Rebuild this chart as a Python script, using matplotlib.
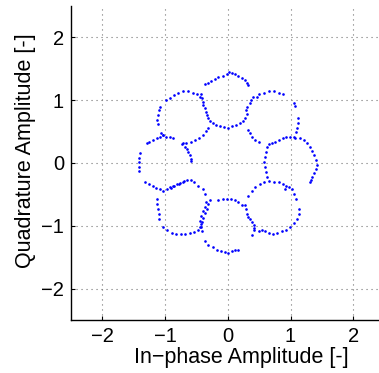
import matplotlib
matplotlib.use("Agg")
import matplotlib.pyplot as plt

# In-phase (x) and quadrature (y) samples, grouped by ring
top_x = [-0.36, -0.32, -0.27, -0.21, -0.15, -0.08, -0.02, 0.02, 0.06, 0.12, 0.17, 0.22, 0.27, 0.30, 0.33,
         -0.42, -0.41, -0.40, -0.39, -0.37, -0.35, -0.33, -0.31, -0.28, -0.24, -0.19, -0.12, -0.06, 0.00,
         0.06, 0.13, 0.19, 0.24, 0.28, 0.30, 0.29, 0.31, 0.35, 0.37, 0.40]
top_y = [1.25, 1.27, 1.30, 1.33, 1.36, 1.39, 1.42, 1.45, 1.43, 1.41, 1.38, 1.35, 1.32, 1.27, 1.24,
         1.09, 1.03, 0.97, 0.92, 0.87, 0.81, 0.76, 0.71, 0.67, 0.64, 0.60, 0.58, 0.57, 0.56,
         0.58, 0.60, 0.63, 0.67, 0.72, 0.78, 0.84, 0.89, 0.95, 1.00, 1.05]

ur_x = [0.46, 0.50, 0.57, 0.65, 0.73, 0.81, 0.88, 1.05, 1.07, 1.12, 1.12, 1.10, 1.08, 1.06,
        0.33, 0.36, 0.39, 0.44, 0.49]
ur_y = [1.05, 1.09, 1.12, 1.15, 1.15, 1.12, 1.10, 0.95, 0.90, 0.71, 0.64, 0.56, 0.49, 0.42,
        0.52, 0.47, 0.42, 0.37, 0.33]

r_x = [0.65, 0.70, 0.75, 0.82, 0.88, 0.93, 0.99, 1.07, 1.15, 1.22, 1.27, 1.31, 1.35, 1.38, 1.40,
       1.43, 1.41, 1.38, 1.35, 1.32, 1.31,
       0.62, 0.61, 0.59, 0.58, 0.59, 0.61, 0.62,
       0.65, 0.73, 0.81, 0.88, 0.93, 0.97, 0.91]
r_y = [0.30, 0.32, 0.34, 0.36, 0.39, 0.41, 0.42, 0.40, 0.40, 0.36, 0.31, 0.25, 0.19, 0.12, 0.04,
       -0.04, -0.09, -0.16, -0.22, -0.28, -0.30,
       0.25, 0.18, 0.10, 0.02, -0.06, -0.14, -0.22,
       -0.29, -0.30, -0.31, -0.34, -0.36, -0.39, -0.41]

lr_x = [0.33, 0.38, 0.44, 0.52, 0.58, 1.02, 1.06, 1.08, 1.14, 1.13, 1.10, 1.06, 0.99, 0.93, 0.86,
        0.79, 0.72, 0.65, 0.59, 0.54, 0.49, 0.42, 0.39,
        0.28, 0.29, 0.31, 0.33, 0.36, 0.38, 0.41, 0.42]
lr_y = [-0.52, -0.44, -0.38, -0.33, -0.31, -0.42, -0.50, -0.58, -0.74, -0.82, -0.89, -0.96, -1.02, -1.06, -1.08,
        -1.11, -1.13, -1.12, -1.09, -1.07, -1.08, -1.07, -1.15,
        -0.67, -0.74, -0.81, -0.86, -0.90, -0.94, -0.99, -1.04]

bot_x = [-0.15, -0.08, -0.02, 0.05, 0.11, 0.17, 0.22,
         -0.29, -0.31, -0.33, -0.36, -0.39, -0.41, -0.42, -0.41,
         -0.36, -0.31, -0.24, -0.18, -0.11, -0.04, 0.01, 0.06, 0.12, 0.17]
bot_y = [-0.59, -0.58, -0.57, -0.58, -0.59, -0.63, -0.67,
         -0.59, -0.66, -0.73, -0.80, -0.87, -0.94, -1.02, -1.08,
         -1.24, -1.30, -1.34, -1.38, -1.40, -1.42, -1.43, -1.40, -1.39, -1.38]

ll_x = [-0.97, -0.92, -0.87, -0.81, -0.76, -0.72, -0.65, -0.59, -0.54, -0.47, -0.40, -0.36,
        -1.13, -1.13, -1.12, -1.10, -1.09,
        -1.03, -0.97, -0.89, -0.82, -0.75, -0.68, -0.61, -0.54, -0.47, -0.44,
        -0.40, -0.37, -0.34, -0.43, -0.45, -0.43]
ll_y = [-0.41, -0.38, -0.36, -0.34, -0.32, -0.30, -0.28, -0.28, -0.31, -0.36, -0.42, -0.49,
        -0.57, -0.65, -0.73, -0.81, -0.89,
        -1.02, -1.07, -1.11, -1.13, -1.13, -1.13, -1.12, -1.10, -1.07, -1.02,
        -0.76, -0.70, -0.63, -0.85, -0.92, -0.98]

l_x = [-1.29, -1.25, -1.20, -1.13, -1.08, -1.03, -0.98, -0.92, -0.87,
       -1.40, -1.41, -1.42, -1.42, -1.41,
       -1.32, -1.25, -1.20, -1.14, -1.08, -1.03, -0.91, -0.85, -0.78, -0.70,
       -0.71, -0.68, -0.65, -0.63, -0.61, -0.59, -0.58]
l_y = [0.31, 0.33, 0.36, 0.39, 0.41, 0.44, 0.42, 0.41, 0.39,
       0.15, 0.08, 0.02, -0.06, -0.13,
       -0.30, -0.34, -0.37, -0.40, -0.42, -0.44, -0.40, -0.36, -0.33, -0.29,
       0.31, 0.25, 0.22, 0.18, 0.12, 0.07, 0.03]

ul_x = [-0.98, -0.92, -0.86, -0.79, -0.71, -0.64, -0.56, -0.49, -0.45,
        -1.08, -1.10, -1.12, -1.13, -1.12, -1.07, -1.04,
        -0.73, -0.66, -0.59, -0.52, -0.46, -0.40, -0.35, -0.31]
ul_y = [1.00, 1.04, 1.08, 1.12, 1.15, 1.15, 1.12, 1.09, 1.05,
        0.89, 0.84, 0.76, 0.69, 0.62, 0.48, 0.44,
        0.30, 0.31, 0.33, 0.36, 0.40, 0.45, 0.50, 0.56]

xs = top_x + ur_x + r_x + lr_x + bot_x + ll_x + l_x + ul_x
ys = top_y + ur_y + r_y + lr_y + bot_y + ll_y + l_y + ul_y

ticks = [-2, -1, 0, 1, 2]
tick_labels = ["\u22122", "\u22121", "0", "1", "2"]

plt.rcParams['font.family'] = ['Liberation Sans', 'DejaVu Sans']

fig = plt.figure(figsize=(3.79, 3.73), dpi=100)
ax = fig.add_axes([71 / 379, 53 / 373, 313.6 / 379, 314.2 / 373])
ax.plot(xs, ys, linestyle='none', marker='o', markersize=1.9, color='#0000ff',
        markeredgewidth=0)
ax.set_xlim(-2.5, 2.5)
ax.set_ylim(-2.5, 2.5)
ax.set_xticks(ticks)
ax.set_xticklabels(tick_labels)
ax.set_yticks(ticks)
ax.set_yticklabels(tick_labels)
ax.grid(True, linestyle=(0, (1, 3.5)), color='0.45', linewidth=0.8)
ax.set_axisbelow(True)
for s in ['top', 'right']:
    ax.spines[s].set_visible(False)
for s in ['left', 'bottom']:
    ax.spines[s].set_linewidth(1.0)
ax.tick_params(direction='in', length=3, width=0.8, labelsize=14.5, pad=5)
ax.set_xlabel("In\u2212phase Amplitude [-]", fontsize=15.5)
ax.set_ylabel("Quadrature Amplitude [-]", fontsize=15.5)
ax.xaxis.label.set_va('center')
ax.yaxis.label.set_va('center')
ax.xaxis.set_label_coords(0.542, -0.118)
ax.yaxis.set_label_coords(-0.1435, 0.538)

fig.savefig("out.png", dpi=100)
